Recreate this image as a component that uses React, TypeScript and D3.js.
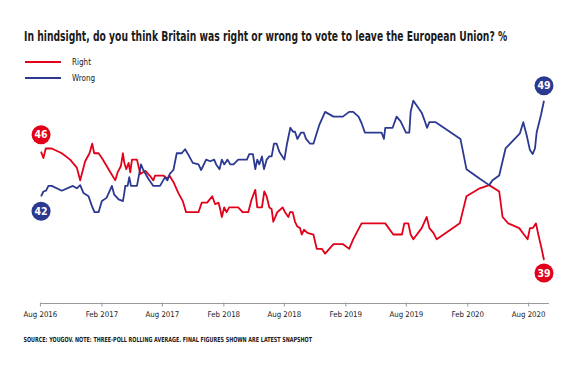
import React, { useLayoutEffect, useRef, useState } from "react";
import * as d3 from "d3";

const title = "In hindsight, do you think Britain was right or wrong to vote to leave the European Union? %";
const source = "SOURCE: YOUGOV. NOTE: THREE-POLL ROLLING AVERAGE. FINAL FIGURES SHOWN ARE LATEST SNAPSHOT";
const seriesNames = ["Right", "Wrong"];
const seriesColors = ["#e2001a", "#2b3990"];
const tickLabels = ["Aug 2016", "Feb 2017", "Aug 2017", "Feb 2018", "Aug 2018", "Feb 2019", "Aug 2019", "Feb 2020", "Aug 2020"];
const startLabels = [46, 42];
const endLabels = [39, 49];

const rightData: [string, number][] = [
  ["2016-08-03", 45.8], ["2016-08-10", 45.4], ["2016-08-17", 46.0], ["2016-09-04", 46.0], ["2016-10-04", 45.7],
  ["2016-10-29", 45.3], ["2016-11-18", 44.8], ["2016-11-28", 44.0], ["2016-12-13", 45.2], ["2016-12-26", 45.7],
  ["2017-01-03", 46.3], ["2017-01-09", 45.7], ["2017-01-22", 45.7], ["2017-02-01", 45.4], ["2017-02-21", 44.7],
  ["2017-03-13", 44.0], ["2017-03-20", 44.5], ["2017-03-30", 44.9], ["2017-04-05", 45.7], ["2017-04-09", 45.1],
  ["2017-04-15", 44.7], ["2017-04-22", 45.1], ["2017-04-27", 44.5], ["2017-05-02", 45.3], ["2017-05-17", 45.3],
  ["2017-05-27", 44.4], ["2017-06-11", 44.6], ["2017-06-24", 44.3], ["2017-07-05", 44.0], ["2017-07-10", 44.3],
  ["2017-07-25", 44.3], ["2017-08-04", 44.3], ["2017-08-16", 44.1], ["2017-08-22", 44.3], ["2017-09-03", 43.9],
  ["2017-09-18", 43.2], ["2017-10-01", 42.7], ["2017-10-11", 42.0], ["2017-11-17", 42.0], ["2017-11-27", 42.6],
  ["2017-12-13", 42.6], ["2017-12-28", 43.0], ["2018-01-06", 42.5], ["2018-01-16", 42.6], ["2018-01-21", 42.2],
  ["2018-01-26", 41.7], ["2018-02-02", 42.3], ["2018-02-09", 42.0], ["2018-02-17", 42.3], ["2018-03-16", 42.3],
  ["2018-03-29", 42.0], ["2018-04-15", 42.0], ["2018-04-25", 42.8], ["2018-05-06", 43.4], ["2018-05-12", 42.3],
  ["2018-05-26", 42.3], ["2018-06-02", 43.3], ["2018-06-09", 43.0], ["2018-06-17", 42.3], ["2018-06-24", 42.2],
  ["2018-06-29", 41.4], ["2018-07-07", 41.8], ["2018-07-11", 42.0], ["2018-07-27", 42.3], ["2018-08-03", 42.0],
  ["2018-08-13", 41.7], ["2018-08-18", 42.0], ["2018-08-26", 42.0], ["2018-09-02", 41.4], ["2018-09-09", 41.1],
  ["2018-09-17", 41.0], ["2018-09-22", 40.6], ["2018-09-29", 40.9], ["2018-10-09", 40.7], ["2018-10-27", 40.6],
  ["2018-11-06", 39.7], ["2018-11-21", 39.7], ["2018-12-01", 39.4], ["2018-12-26", 40.0], ["2019-01-23", 40.0],
  ["2019-02-11", 39.7], ["2019-02-23", 40.3], ["2019-03-20", 41.3], ["2019-05-30", 41.3], ["2019-06-23", 40.6],
  ["2019-07-19", 40.6], ["2019-07-26", 41.3], ["2019-08-07", 41.3], ["2019-08-14", 40.6], ["2019-08-22", 40.3],
  ["2019-09-16", 41.0], ["2019-10-01", 41.7], ["2019-10-09", 41.0], ["2019-10-21", 40.7], ["2019-10-31", 40.3],
  ["2020-01-08", 41.3], ["2020-01-28", 43.0], ["2020-03-08", 43.5], ["2020-04-05", 43.7], ["2020-05-05", 43.3],
  ["2020-05-15", 41.7], ["2020-06-01", 41.3], ["2020-07-04", 41.0], ["2020-07-18", 40.6], ["2020-07-29", 40.3],
  ["2020-08-05", 41.0], ["2020-08-13", 41.0], ["2020-08-23", 41.3], ["2020-08-30", 40.6], ["2020-09-09", 39.7],
  ["2020-09-16", 39.0],
];

const wrongData: [string, number][] = [
  ["2016-08-03", 43.0], ["2016-08-10", 43.3], ["2016-08-18", 43.35], ["2016-08-25", 43.65], ["2016-09-04", 43.65],
  ["2016-10-04", 43.35], ["2016-11-06", 43.65], ["2016-11-18", 43.5], ["2016-11-28", 43.7], ["2016-12-08", 43.2],
  ["2016-12-23", 43.0], ["2017-01-02", 42.4], ["2017-01-10", 42.0], ["2017-01-22", 42.0], ["2017-02-01", 42.7],
  ["2017-02-15", 42.9], ["2017-03-03", 43.65], ["2017-03-10", 43.1], ["2017-03-23", 42.8], ["2017-04-05", 42.7],
  ["2017-04-09", 43.2], ["2017-04-12", 43.65], ["2017-04-19", 43.65], ["2017-04-24", 44.2], ["2017-04-29", 43.65],
  ["2017-05-17", 43.65], ["2017-05-29", 45.0], ["2017-06-05", 44.65], ["2017-06-20", 44.1], ["2017-07-05", 43.65],
  ["2017-07-25", 43.65], ["2017-08-09", 44.2], ["2017-08-16", 44.0], ["2017-08-23", 44.4], ["2017-09-03", 44.65],
  ["2017-09-13", 45.7], ["2017-09-28", 45.7], ["2017-10-08", 45.95], ["2017-10-18", 45.6], ["2017-10-31", 45.1],
  ["2017-11-17", 45.0], ["2017-11-25", 44.65], ["2017-12-10", 45.3], ["2017-12-22", 45.2], ["2018-01-03", 45.3],
  ["2018-01-09", 45.0], ["2018-01-19", 44.7], ["2018-01-26", 45.3], ["2018-02-02", 45.0], ["2018-02-12", 45.3],
  ["2018-02-20", 45.0], ["2018-03-02", 45.0], ["2018-03-16", 45.3], ["2018-04-11", 45.3], ["2018-04-18", 45.65],
  ["2018-04-29", 45.65], ["2018-05-06", 44.7], ["2018-05-12", 45.3], ["2018-05-18", 45.0], ["2018-05-26", 45.5],
  ["2018-06-01", 44.7], ["2018-06-09", 45.3], ["2018-06-17", 45.5], ["2018-06-24", 45.5], ["2018-07-01", 46.3],
  ["2018-07-09", 46.3], ["2018-07-17", 45.8], ["2018-08-01", 45.3], ["2018-08-09", 46.3], ["2018-08-19", 47.3],
  ["2018-08-27", 47.05], ["2018-09-02", 47.05], ["2018-09-09", 46.6], ["2018-09-20", 47.0], ["2018-09-28", 47.0],
  ["2018-10-05", 46.6], ["2018-10-17", 46.3], ["2018-10-27", 46.3], ["2018-11-14", 47.5], ["2018-12-01", 48.3],
  ["2018-12-26", 48.0], ["2019-01-23", 48.0], ["2019-02-11", 48.3], ["2019-02-23", 48.3], ["2019-03-11", 48.0],
  ["2019-03-20", 47.6], ["2019-03-30", 47.0], ["2019-05-19", 47.0], ["2019-05-26", 46.6], ["2019-05-30", 47.3],
  ["2019-06-21", 47.3], ["2019-07-03", 48.0], ["2019-07-15", 47.7], ["2019-07-31", 47.0], ["2019-08-10", 47.0],
  ["2019-08-14", 48.3], ["2019-08-22", 49.0], ["2019-09-01", 48.7], ["2019-09-16", 48.25], ["2019-09-24", 47.8],
  ["2019-10-02", 47.3], ["2019-10-09", 47.65], ["2019-10-28", 47.65], ["2020-01-10", 46.6], ["2020-01-28", 44.7],
  ["2020-03-08", 44.1], ["2020-04-05", 43.7], ["2020-04-15", 44.0], ["2020-05-05", 44.3], ["2020-05-15", 45.2],
  ["2020-05-24", 46.0], ["2020-06-11", 46.4], ["2020-07-06", 46.95], ["2020-07-16", 47.65], ["2020-07-26", 46.85],
  ["2020-08-05", 45.9], ["2020-08-13", 45.65], ["2020-08-20", 46.0], ["2020-08-25", 47.0], ["2020-09-07", 48.1],
  ["2020-09-16", 49.0],
];

const W = 580;
const H = 378;
const FONT = "'Liberation Sans Narrow', 'DejaVu Sans Condensed', 'Arial Narrow', sans-serif";

function FitText(props: { x: number; y: number; width: number; size: number; weight?: string | number; children: string }) {
  const ref = useRef<SVGTextElement>(null);
  const [sx, setSx] = useState(1);
  useLayoutEffect(() => {
    if (ref.current) {
      const w = ref.current.getComputedTextLength();
      if (w > 0) setSx(props.width / w);
    }
  }, [props.width, props.children]);
  return (
    <g transform={`translate(${props.x}, ${props.y}) scale(${sx}, 1)`}>
      <text ref={ref} x={0} y={0} fontFamily={FONT} fontWeight={props.weight} fontSize={props.size} fill="#1a1a1a">
        {props.children}
      </text>
    </g>
  );
}

export default function App() {
  const parseDate = d3.timeParse("%Y-%m-%d");
  const parseTick = d3.timeParse("%b %Y");
  const x = d3.scaleTime()
    .domain([new Date(2016, 7, 1), new Date(2020, 9, 1)])
    .range([40.4, 549]);
  const y = d3.scaleLinear().domain([36, 52]).range([307.8, 52.9]);
  const line = d3.line<[string, number]>()
    .x((d) => x(parseDate(d[0]) as Date))
    .y((d) => y(d[1]));

  const all = [rightData, wrongData];
  const tickDates = tickLabels.map((t) => parseTick(t) as Date);
  const axisY = 303.5;
  const startOff = [-17, 15];
  const endOff = [13, -15];

  return (
    <div style={{ position: "fixed", left: 0, top: 0, width: W, height: H, background: "#fff" }}>
      <svg width={W} height={H} viewBox={`0 0 ${W} ${H}`} style={{ display: "block" }}>
        <rect width={W} height={H} fill="#fff" />
        <FitText x={24} y={41} width={484} size={13.5} weight="bold">{title}</FitText>
        {seriesNames.map((n, i) => (
          <g key={n} transform={`translate(0, ${62 + i * 16})`}>
            <line x1={25} x2={61} y1={0} y2={0} stroke={seriesColors[i]} strokeWidth={2} />
            <text x={72} y={3} fontFamily={FONT} fontSize={8} fill="#1a1a1a">{n}</text>
          </g>
        ))}
        <line x1={x.range()[0]} x2={x.range()[1]} y1={axisY} y2={axisY} stroke="#9a9a9a" strokeWidth={1} />
        {tickDates.map((d, i) => (
          <g key={tickLabels[i]}>
            <line x1={x(d)} x2={x(d)} y1={axisY - 1} y2={axisY + 3} stroke="#9a9a9a" strokeWidth={1} />
            <text x={x(d)} y={317} textAnchor="middle" fontFamily={FONT} fontSize={7.8} fontWeight={500} fill="#1a1a1a">{tickLabels[i]}</text>
          </g>
        ))}
        <FitText x={23.5} y={341.5} width={289} size={7} weight="bold">{source}</FitText>
        {all.map((data, i) => (
          <path key={"l" + i} d={line(data) || ""} fill="none" stroke={seriesColors[i]} strokeWidth={1.8}
            strokeLinejoin="round" />
        ))}
        {all.map((data, i) => {
          const first = data[0];
          const last = data[data.length - 1];
          const sx = x(parseDate(first[0]) as Date);
          const sy = y(first[1]) + startOff[i];
          const ex = x(parseDate(last[0]) as Date);
          const ey = y(last[1]) + endOff[i];
          return (
            <g key={"b" + i}>
              <circle cx={sx} cy={sy} r={9.5} fill={seriesColors[i]} />
              <text x={sx} y={sy + 3.6} textAnchor="middle" fontFamily={FONT} fontWeight="bold" fontSize={10.5} fill="#fff">{startLabels[i]}</text>
              <circle cx={ex} cy={ey} r={9.5} fill={seriesColors[i]} />
              <text x={ex} y={ey + 3.6} textAnchor="middle" fontFamily={FONT} fontWeight="bold" fontSize={10.5} fill="#fff">{endLabels[i]}</text>
            </g>
          );
        })}
      </svg>
    </div>
  );
}
